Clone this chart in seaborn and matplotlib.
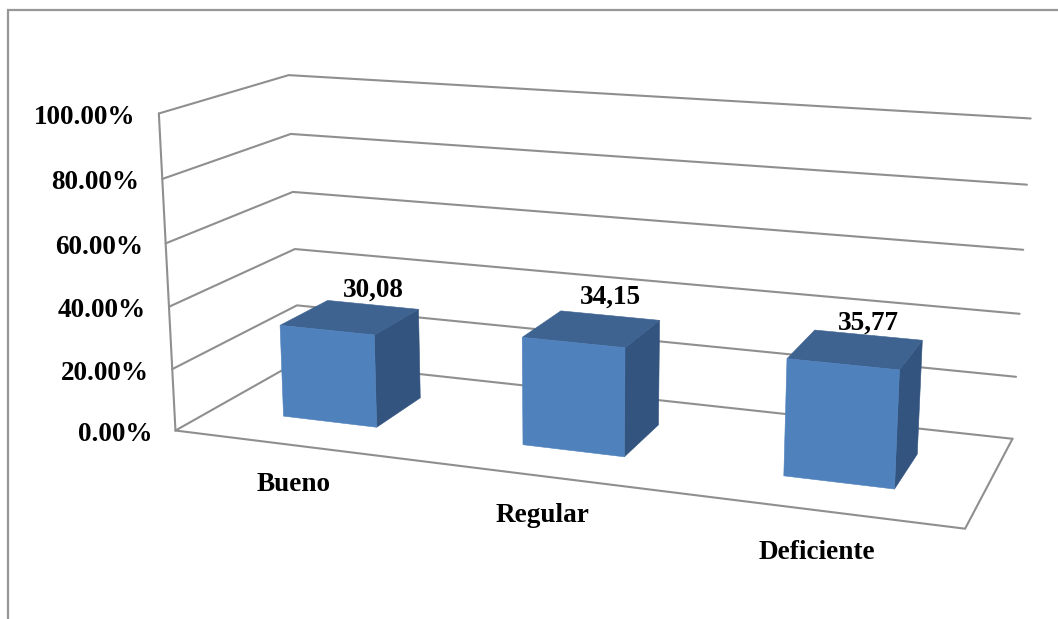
import numpy as np
import pandas as pd
import matplotlib
matplotlib.use("Agg")
import matplotlib.pyplot as plt
import seaborn as sns

# Chart values
categories = ["Bueno", "Regular", "Deficiente"]
percent_values = [30.08, 34.15, 35.77]
value_labels = ["30,08", "34,15", "35,77"]
axis_levels = [0, 20, 40, 60, 80, 100]
axis_labels = ["0.00%", "20.00%", "40.00%", "60.00%", "80.00%", "100.00%"]

# Bar footprint in box units (category slot fractions, floor depth)
BAR_WIDTH = 0.133
DEPTH_FRONT, DEPTH_BACK = 0.30, 0.70

# Pinhole camera for the 3D box: box coordinates (x, depth, height) -> canvas pixels
ANCHORS = [
    ((0, 0, 0), (175, 431)), ((1, 0, 0), (965, 529)), ((1, 1, 0), (1012, 438)),
    ((0, 1, 0), (298, 362)), ((0, 0, 1), (157.5, 114)), ((0, 1, 1), (289, 75.5)),
    ((1, 1, 1), (1030, 118)), ((0, 0, .2), (173, 369)), ((0, 0, .4), (170, 306)),
    ((0, 0, .6), (166, 243)), ((0, 0, .8), (162, 179)), ((0, 1, .2), (297, 305)),
    ((0, 1, .4), (295, 248)), ((0, 1, .6), (293, 192)), ((0, 1, .8), (291, 134)),
    ((1, 1, .2), (1016, 377)), ((1, 1, .4), (1020, 314)), ((1, 1, .6), (1024, 250)),
    ((1, 1, .8), (1027, 185)),
]


def solve_camera(anchors):
    rows = []
    for (x, y, z), (u, v) in anchors:
        rows.append([x, y, z, 1, 0, 0, 0, 0, -u * x, -u * y, -u * z, -u])
        rows.append([0, 0, 0, 0, x, y, z, 1, -v * x, -v * y, -v * z, -v])
    return np.linalg.svd(np.array(rows, float))[2][-1].reshape(3, 4)


CAMERA = solve_camera(ANCHORS)


def project(x, depth, height):
    h = CAMERA @ np.array([x, depth, height, 1.0])
    return h[:2] / h[2]


sns.set_theme(style="white")
plt.rcParams["font.family"] = ["Liberation Serif", "DejaVu Serif"]
plt.rcParams["font.weight"] = "bold"

GRAY = "#8f8f8f"
FRONT, TOP, SIDE = "#4f81bd", "#3e6391", "#32547f"
LW = 1.5
FONT = 19.6

fig = plt.figure(figsize=(10.58, 6.19), dpi=100, facecolor="white")
ax = fig.add_axes([0, 0, 1, 1])

# Wall gridlines and box edges, as one long-form table of polylines
segments = []
for level in axis_levels:
    frac = level / 100
    segments.append([(0, 0, frac), (0, 1, frac), (1, 1, frac)])
segments.append([(0, 0, 0), (0, 0, 1)])
segments.append([(0, 0, 0), (1, 0, 0), (1, 1, 0)])
records = []
for sid, seg in enumerate(segments):
    for order, pt in enumerate(seg):
        u, v = project(*pt)
        records.append({"segment": sid, "order": order, "u": u, "v": v})
grid = pd.DataFrame(records)
sns.lineplot(data=grid, x="u", y="v", units="segment", estimator=None, sort=False,
             color=GRAY, linewidth=LW, legend=False, ax=ax, zorder=1,
             solid_joinstyle="miter")

# Chart frame along the top and left edges
sns.lineplot(x=[8, 8, 1058], y=[619, 9.5, 9.5], estimator=None, sort=False,
             color="#979797", linewidth=1.6, legend=False, ax=ax, zorder=1,
             solid_joinstyle="miter")


def face(points, color):
    xy = np.array([project(*p) for p in points])
    ax.fill(xy[:, 0], xy[:, 1], facecolor=color, edgecolor=color, linewidth=0.4, zorder=3)


# Bars: right side, top and front faces
label_shift = [(23, -27), (19, -32), (13, -26)]
for i, (val, txt) in enumerate(zip(percent_values, value_labels)):
    h = val / 100
    x0 = (i + 0.5) / 3 - BAR_WIDTH / 2
    x1 = x0 + BAR_WIDTH
    d0, d1 = DEPTH_FRONT, DEPTH_BACK
    face([(x1, d0, 0), (x1, d1, 0), (x1, d1, h), (x1, d0, h)], SIDE)
    face([(x0, d0, h), (x1, d0, h), (x1, d1, h), (x0, d1, h)], TOP)
    face([(x0, d0, 0), (x1, d0, 0), (x1, d0, h), (x0, d0, h)], FRONT)
    cx, cy = project((x0 + x1) / 2, (d0 + d1) / 2, h)
    ax.text(cx + label_shift[i][0], cy + label_shift[i][1], txt, ha="center", va="center",
            fontsize=FONT, fontweight="bold", color="black", zorder=4)

# Value axis labels follow the front-left wall edge
for level, txt in zip(axis_levels, axis_labels):
    u, v = project(0, 0, level / 100)
    ax.text(u - 23, v + 4, txt, ha="right", va="center", fontsize=FONT,
            fontweight="bold", color="black")

# Category labels below the front edge
cat_shift = [(1, 39), (-1, 39), (-1, 42)]
for i, name in enumerate(categories):
    u, v = project((i + 0.5) / 3, 0, 0)
    ax.text(u + cat_shift[i][0], v + cat_shift[i][1], name, ha="center", va="center",
            fontsize=FONT, fontweight="bold", color="black")

ax.set_xlim(0, 1058)
ax.set_ylim(619, 0)
ax.axis("off")
fig.savefig("out.png", dpi=100, facecolor="white")
